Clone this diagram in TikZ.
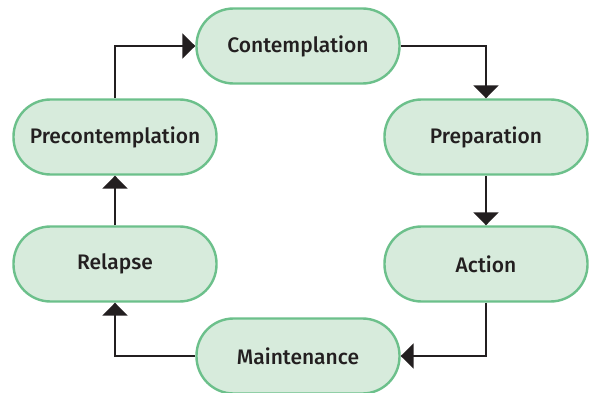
\documentclass[tikz,border=0pt]{standalone}
\usepackage{fontspec}
\setmainfont{Fira Sans Medium}
\usetikzlibrary{arrows.meta}
\definecolor{stageborder}{HTML}{6CC08B}
\definecolor{stagefill}{HTML}{D7EBDC}
\definecolor{linkcol}{HTML}{231F20}
\begin{document}
\begin{tikzpicture}[x=1pt,y=-1pt,
  stage/.style={draw=stageborder, fill=stagefill, line width=2.4pt,
    rounded corners=37pt, minimum width=203pt, minimum height=75pt,
    inner sep=0pt, font=\fontsize{21}{24}\selectfont, text=linkcol},
  link/.style={draw=linkcol, line width=2pt,
    -{Triangle[width=25pt,length=13pt]}}]
\useasboundingbox (0,0) rectangle (589,393);
\node[stage] (con) at (298,46) {Contemplation};
\node[stage] (prep) at (486,137) {Preparation};
\node[stage] (act) at (486,264) {Action};
\node[stage] (main) at (298,356) {Maintenance};
\node[stage] (rel) at (115,264) {Relapse};
\node[stage] (pre) at (115,137) {Precontemplation};
\draw[link] (pre.north) |- (con.west);
\draw[link] (con.east) -| (prep.north);
\draw[link] (prep.south) -- (act.north);
\draw[link] (act.south) |- (main.east);
\draw[link] (main.west) -| (rel.south);
\draw[link] (rel.north) -- (pre.south);
\end{tikzpicture}
\end{document}
